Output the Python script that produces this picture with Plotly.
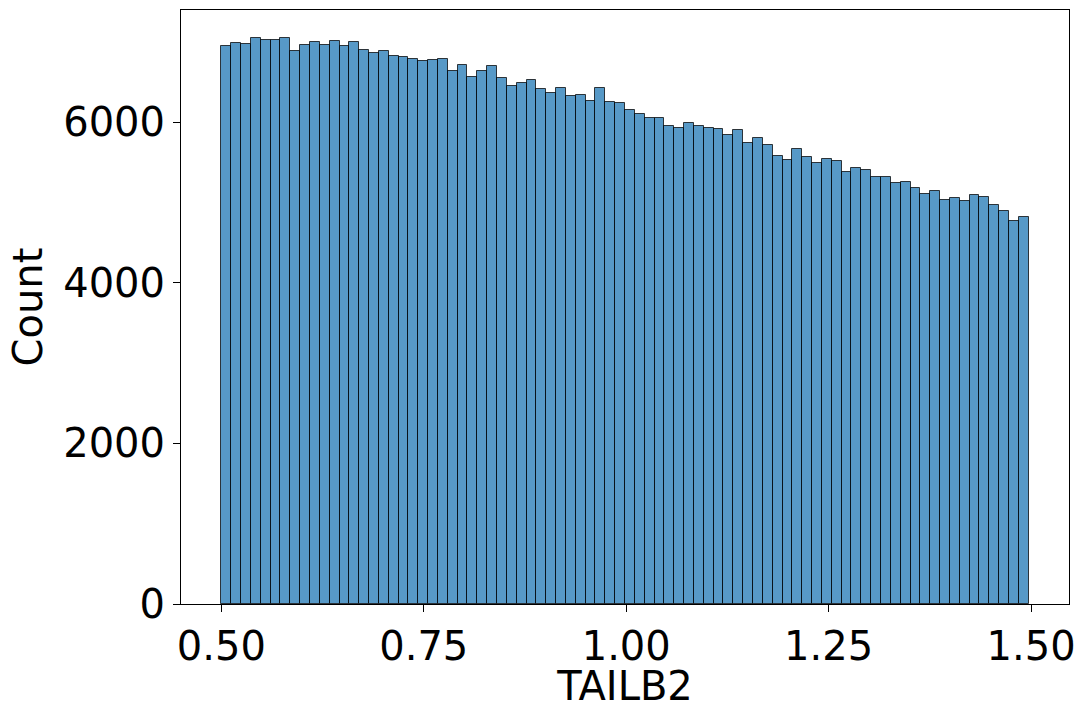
import numpy as np
import plotly.graph_objects as go

# Histogram of TAILB2: 82 equal bins spanning the data range
x_min = 0.5
x_max = 1.497
counts = [
    6948, 6981, 6969, 7044, 7027, 7027, 7044, 6881, 6960, 7002,
    6960, 7010, 6948, 6994, 6902, 6860, 6881, 6827, 6815, 6785,
    6760, 6769, 6781, 6635, 6706, 6556, 6640, 6694, 6552, 6456,
    6490, 6527, 6410, 6369, 6423, 6331, 6340, 6260, 6423, 6248,
    6240, 6156, 6098, 6056, 6056, 5952, 5927, 5986, 5952, 5927,
    5915, 5840, 5906, 5735, 5806, 5710, 5577, 5527, 5660, 5569,
    5485, 5540, 5510, 5381, 5423, 5402, 5315, 5315, 5248, 5252,
    5185, 5110, 5144, 5035, 5052, 5019, 5094, 5065, 4965, 4894,
    4765, 4823,
]
x_ticks = [0.50, 0.75, 1.00, 1.25, 1.50]
y_ticks = [0, 2000, 4000, 6000]
x_label = "TAILB2"
y_label = "Count"

n = len(counts)
edges = np.linspace(x_min, x_max, n + 1)
centers = (edges[:-1] + edges[1:]) / 2
width = edges[1] - edges[0]

fig = go.Figure(
    go.Bar(
        x=centers,
        y=counts,
        width=width,
        marker=dict(
            color="rgba(31,119,180,0.75)",
            line=dict(color="rgba(0,0,0,0.75)", width=1),
        ),
        hoverinfo="x+y",
    )
)

span = x_max - x_min
font = "DejaVu Sans"
fig.update_layout(
    width=1078,
    height=709,
    margin=dict(l=181, r=9, t=10, b=105, autoexpand=False),
    paper_bgcolor="white",
    plot_bgcolor="white",
    bargap=0,
    showlegend=False,
    font=dict(family=font, size=40, color="black"),
)
fig.update_xaxes(
    automargin=False,
    range=[x_min - 0.05 * span, x_max + 0.05 * span],
    tickvals=x_ticks,
    tickformat=".2f",
    ticks="outside",
    ticklen=7,
    tickwidth=1,
    tickcolor="black",
    showline=True,
    linecolor="black",
    linewidth=1,
    mirror=True,
    showgrid=False,
    zeroline=False,
    tickfont=dict(size=40),
    title=dict(text=x_label, font=dict(size=40), standoff=6),
)
fig.update_yaxes(
    automargin=False,
    range=[0, max(counts) * 1.05],
    tickvals=y_ticks,
    tickformat="d",
    ticks="outside",
    ticklen=7,
    tickwidth=1,
    tickcolor="black",
    showline=True,
    linecolor="black",
    linewidth=1,
    mirror=True,
    showgrid=False,
    zeroline=False,
    tickfont=dict(size=40),
    title=dict(text=y_label, font=dict(size=40), standoff=8),
)

fig.write_html("out.html")
